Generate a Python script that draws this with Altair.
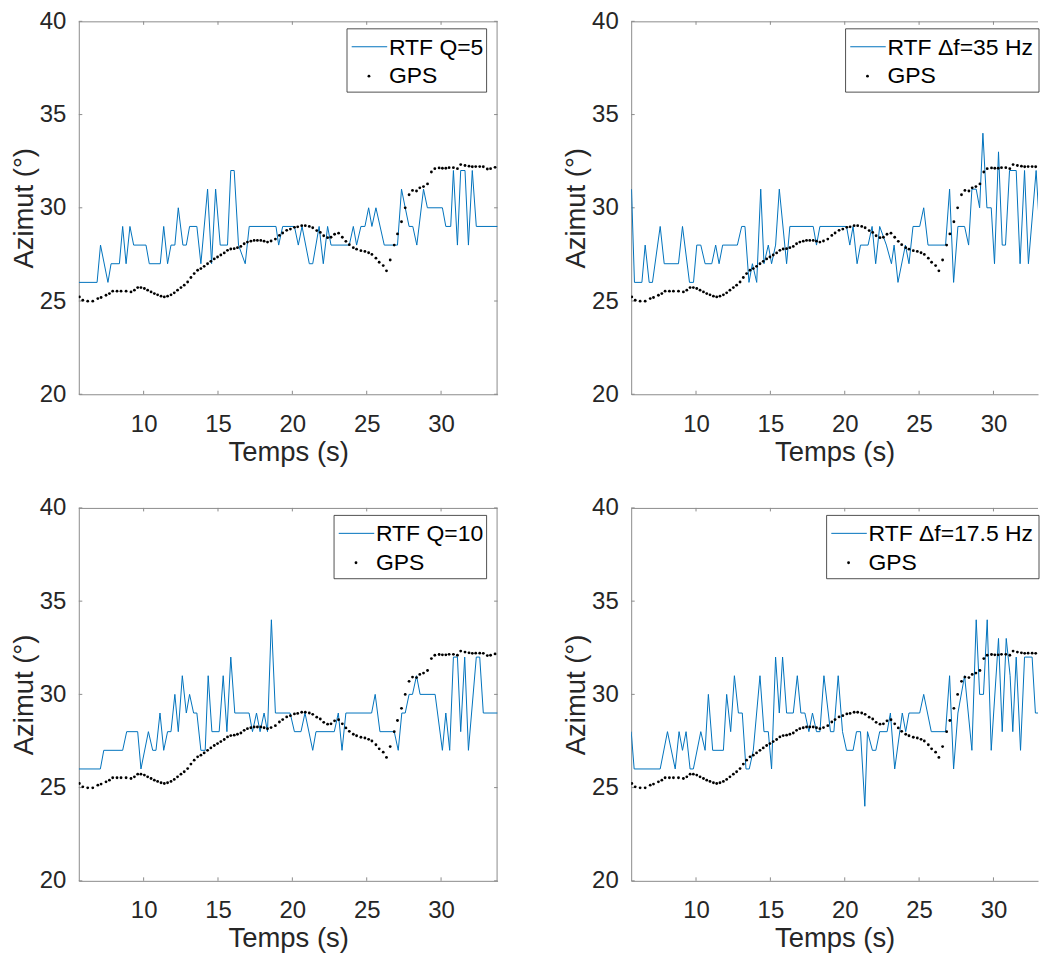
import altair as alt
import pandas as pd

# ---------------- data ----------------
gps_t = [5.68, 5.91, 6.24, 6.58, 6.92, 7.14, 7.47, 7.70, 7.92, 8.21, 8.48, 8.82, 9.15, 9.38,
         9.60, 9.82, 10.05, 10.27, 10.50, 10.72, 10.94, 11.17, 11.39, 11.61, 11.84, 12.06,
         12.28, 12.51, 12.73, 12.96, 13.18, 13.40, 13.63, 13.85, 14.07, 14.30, 14.52, 14.75,
         14.97, 15.19, 15.42, 15.64, 15.86, 16.09, 16.31, 16.54, 16.76, 16.98, 17.21, 17.43,
         17.65, 17.88, 18.10, 18.33, 18.57, 18.86, 19.13, 19.35, 19.62, 19.87, 20.14, 20.36,
         20.63, 20.87, 21.14, 21.37, 21.64, 21.88, 22.11, 22.37, 22.60, 22.84, 23.11, 23.36,
         23.60, 23.83, 24.10, 24.32, 24.61, 24.88, 25.13, 25.35, 25.62, 25.84, 26.11, 26.33,
         26.58, 26.85, 27.07, 27.34, 27.59, 27.85, 28.08, 28.35, 28.57, 28.82, 29.09, 29.35,
         29.58, 29.87, 30.09, 30.32, 30.54, 30.83, 31.10, 31.32, 31.61, 31.88, 32.10, 32.33,
         32.60, 32.84, 33.11, 33.33, 33.63]
gps_v = [25.22, 25.04, 24.99, 24.99, 25.13, 25.19, 25.31, 25.40, 25.53, 25.53, 25.53, 25.53,
         25.49, 25.58, 25.72, 25.72, 25.67, 25.58, 25.49, 25.40, 25.33, 25.26, 25.22, 25.26,
         25.33, 25.44, 25.58, 25.72, 25.85, 26.02, 26.26, 26.47, 26.65, 26.74, 26.86, 27.00,
         27.13, 27.26, 27.36, 27.47, 27.58, 27.72, 27.79, 27.81, 27.86, 27.93, 28.07, 28.16,
         28.21, 28.25, 28.25, 28.25, 28.21, 28.16, 28.22, 28.32, 28.52, 28.65, 28.79, 28.86,
         28.95, 28.98, 29.04, 29.04, 29.00, 28.93, 28.78, 28.68, 28.50, 28.40, 28.42, 28.58,
         28.64, 28.42, 28.20, 28.02, 27.86, 27.78, 27.70, 27.66, 27.59, 27.50, 27.30, 27.08,
         26.90, 26.62, 27.20, 28.00, 28.60, 29.25, 30.00, 30.70, 30.93, 30.90, 31.07, 31.14,
         31.28, 31.92, 32.10, 32.14, 32.12, 32.12, 32.15, 32.15, 32.10, 32.32, 32.27, 32.23,
         32.20, 32.21, 32.21, 32.20, 32.08, 32.10, 32.17]

q5_t = [5.64, 6.87, 7.10, 7.60, 7.81, 8.37, 8.59, 8.82, 9.08, 9.33, 10.16, 10.38, 11.12, 11.35,
        11.61, 11.84, 12.10, 12.33, 12.64, 12.87, 13.09, 13.58, 13.85, 14.30, 14.57, 14.84,
        15.15, 15.64, 15.86, 16.09, 16.38, 16.83, 17.10, 18.90, 19.08, 19.35, 20.14, 20.40,
        20.65, 21.14, 21.37, 21.80, 22.08, 22.37, 22.60, 23.83, 24.10, 24.32, 24.61, 24.88,
        25.13, 25.35, 25.62, 26.18, 27.07, 27.34, 27.59, 27.85, 28.10, 28.37, 28.82, 29.08,
        30.09, 30.32, 30.65, 30.83, 31.10, 31.32, 31.61, 31.84, 32.10, 32.37, 33.80]
q5_v = [26, 26, 28, 26, 27, 27, 29, 27, 29, 28, 28, 27, 27, 29,
        27, 28, 28, 30, 28, 28, 29, 29, 27, 31, 27, 31,
        28, 28, 32, 32, 28, 27, 29, 29, 28, 29, 29, 28,
        29, 27, 27, 29, 27, 29, 28, 28, 29, 28, 29, 29,
        30, 29, 30, 28, 28, 31, 30, 29, 29, 28, 31, 30,
        30, 29, 29, 32, 28, 32, 32, 28, 32, 29, 29]

d35_t = [5.66, 5.86, 6.36, 6.58, 6.85, 7.07, 7.59, 7.86, 8.82, 9.09, 9.56, 9.83, 10.05, 10.32,
         10.61, 11.06, 11.32, 11.55, 11.79, 12.78, 13.07, 13.29, 13.56, 13.79, 14.08, 14.35,
         14.57, 14.86, 15.08, 15.35, 15.60, 16.09, 16.31, 17.88, 18.10, 18.33, 20.12, 20.34,
         20.56, 20.83, 21.06, 21.57, 21.84, 22.08, 22.35, 22.80, 23.14, 23.32, 23.58, 24.08,
         24.32, 24.59, 25.04, 25.31, 25.60, 26.78, 27.05, 27.32, 27.61, 28.06, 28.33, 28.55,
         28.84, 29.07, 29.29, 29.56, 29.85, 30.07, 30.34, 30.59, 30.81, 31.08, 31.53, 31.79,
         32.09, 32.35, 32.87, 33.09, 33.80]
d35_v = [31, 26, 26, 28, 26, 26, 29, 27, 27, 29, 26, 26, 28, 28,
         27, 27, 28, 27, 28, 28, 29, 29, 26, 27, 26, 31,
         27, 28, 27, 28, 31, 27, 29, 29, 28, 29, 29, 28,
         29, 27, 28, 28, 29, 27, 29, 28, 27, 28, 26, 28,
         27, 29, 29, 30, 28, 28, 31, 26, 29, 29, 28, 31,
         31, 30, 34, 30, 30, 27, 33, 28, 28, 32, 32, 27,
         32, 27, 32, 29, 29]

q10_t = [5.64, 7.09, 7.32, 8.59, 8.86, 9.60, 9.82, 10.32, 10.61, 10.83, 11.10, 11.35, 11.61,
         11.84, 12.10, 12.33, 12.60, 12.87, 13.09, 13.36, 13.58, 13.85, 14.14, 14.34, 14.59,
         15.08, 15.35, 15.60, 15.86, 16.13, 17.09, 17.32, 17.59, 17.83, 18.10, 18.33, 18.59,
         18.86, 19.85, 20.14, 20.58, 20.85, 21.37, 21.59, 22.82, 23.09, 23.34, 23.60, 25.33,
         25.57, 25.89, 26.85, 27.12, 27.36, 27.59, 27.85, 28.08, 28.35, 28.59, 29.60, 30.09,
         30.32, 30.58, 30.83, 31.10, 31.32, 31.59, 31.84, 32.37, 32.60, 32.84, 33.80]
q10_v = [26, 26, 27, 27, 28, 28, 26, 28, 27, 27, 29, 27, 28,
         28, 30, 28, 31, 29, 30, 29, 29, 27, 27, 31, 28,
         28, 31, 28, 32, 29, 29, 28, 29, 28, 29, 28, 34,
         29, 29, 28, 28, 29, 27, 28, 28, 29, 27, 29, 29,
         30, 28, 28, 27, 29, 29, 30, 30, 31, 30, 30, 27,
         29, 27, 32, 32, 28, 32, 27, 32, 32, 29, 29]

d175_t = [5.64, 5.84, 7.59, 8.08, 8.60, 8.86, 9.09, 9.33, 9.60, 9.82, 10.32, 10.61, 10.83,
          11.12, 11.84, 12.06, 12.33, 12.58, 12.85, 13.11, 13.36, 13.58, 13.85, 14.30, 14.57,
          14.86, 15.08, 15.35, 15.60, 15.82, 16.09, 16.54, 16.81, 17.05, 17.32, 17.59, 17.83,
          18.10, 18.33, 18.60, 19.04, 19.27, 19.56, 19.85, 20.12, 20.56, 20.79, 21.06, 21.35,
          21.53, 21.86, 22.09, 22.35, 22.85, 23.07, 23.36, 23.87, 24.10, 24.32, 25.04, 25.31,
          25.82, 26.78, 27.05, 27.32, 27.61, 28.06, 28.55, 28.84, 29.07, 29.33, 29.58, 29.85,
          30.34, 30.59, 30.86, 31.12, 31.30, 31.53, 31.82, 32.09, 32.60, 32.82, 33.80]
d175_v = [28, 26, 26, 28, 26, 28, 27, 28, 26, 26, 28, 27, 30,
          27, 27, 30, 28, 31, 29, 29, 26, 26, 27, 31, 28,
          28, 26, 32, 29, 32, 29, 29, 31, 29, 29, 28, 29,
          28, 28, 31, 28, 28, 31, 28, 27, 27, 28, 28, 24,
          28, 27, 27, 28, 28, 29, 26, 29, 28, 29, 29, 30,
          28, 28, 31, 26, 29, 31, 27, 34, 30, 30, 34, 27,
          33, 28, 33, 31, 28, 32, 27, 32, 32, 29, 29]

x_ticks = [10, 15, 20, 25, 30]
y_ticks = [20, 25, 30, 35, 40]
labels = ["RTF Q=5", "RTF \u0394f=35 Hz", "RTF Q=10", "RTF \u0394f=17.5 Hz"]
gps_label = "GPS"

# ---------------- styling ----------------
X_MIN, X_MAX = 5.64, 33.8
W_L, W_R, H = 420, 408, 374
PX_PER_UNIT = W_L / (X_MAX - X_MIN)
FONT = "Liberation Sans"
TXT = "#262626"
FRAME = "#8c8c8c"
BLUE = "#0072BD"
TICK = 3.5
DOT = 8


def panel(rt, rv, label, width, legend_left, right_frame):
    xmax = X_MIN + width / PX_PER_UNIT
    xs = alt.Scale(domain=[X_MIN, xmax], nice=False, zero=False)
    ys = alt.Scale(domain=[20, 40], nice=False, zero=False)
    X = alt.X("t:Q", scale=xs, axis=alt.Axis(values=x_ticks, title="Temps (s)", format="d"))
    Y = alt.Y("v:Q", scale=ys, axis=alt.Axis(values=y_ticks, title="Azimut (°)", format="d"))
    rtf = pd.DataFrame({"t": rt, "v": rv})
    gps = pd.DataFrame({"t": gps_t, "v": gps_v})
    xt = pd.DataFrame({"t": x_ticks})
    yt = pd.DataFrame({"v": y_ticks})
    one = pd.DataFrame({"a": [0]})

    layers = [
        alt.Chart(xt).mark_rule(color=FRAME, strokeWidth=1).encode(
            x=X, y=alt.value(H), y2=alt.value(H - TICK)),
        alt.Chart(xt).mark_rule(color=FRAME, strokeWidth=1).encode(
            x=X, y=alt.value(0), y2=alt.value(TICK)),
        alt.Chart(yt).mark_rule(color=FRAME, strokeWidth=1).encode(
            y=Y, x=alt.value(0), x2=alt.value(TICK)),
        alt.Chart(one).mark_rule(color=FRAME, strokeWidth=1).encode(
            x=alt.value(0), x2=alt.value(width), y=alt.value(0.5)),
    ]
    if right_frame:
        layers += [
            alt.Chart(yt).mark_rule(color=FRAME, strokeWidth=1).encode(
                y=Y, x=alt.value(width - TICK), x2=alt.value(width)),
            alt.Chart(one).mark_rule(color=FRAME, strokeWidth=1).encode(
                x=alt.value(width - 0.5), y=alt.value(0), y2=alt.value(H)),
        ]
    layers += [
        alt.Chart(rtf).mark_line(color=BLUE, strokeWidth=1, clip=True).encode(x=X, y=Y),
        alt.Chart(gps).mark_circle(color="black", size=DOT, opacity=1, clip=True).encode(x=X, y=Y),
    ]
    L = legend_left
    R = 409
    T, B = 7.5, 71
    layers += [
        alt.Chart(one).mark_rect(fill="white", stroke="#262626", strokeWidth=0.8).encode(
            x=alt.value(L), x2=alt.value(R), y=alt.value(T), y2=alt.value(B)),
        alt.Chart(one).mark_rule(color=BLUE, strokeWidth=1).encode(
            x=alt.value(L + 4.7), x2=alt.value(L + 40.3), y=alt.value(T + 18)),
        alt.Chart(one).mark_circle(color="black", size=DOT, opacity=1).encode(
            x=alt.value(L + 22), y=alt.value(T + 47.5)),
        alt.Chart(one).mark_text(text=label, align="left", baseline="alphabetic",
                                 font=FONT, fontSize=23, color="black").encode(
            x=alt.value(L + 42), y=alt.value(T + 26)),
        alt.Chart(one).mark_text(text=gps_label, align="left", baseline="alphabetic",
                                 font=FONT, fontSize=23, color="black").encode(
            x=alt.value(L + 42), y=alt.value(T + 54.5)),
    ]
    return alt.layer(*layers).properties(width=width, height=H)


p1 = panel(q5_t, q5_v, labels[0], W_L, 269, True)
p2 = panel(d35_t, d35_v, labels[1], W_R, 215, False)
p3 = panel(q10_t, q10_v, labels[2], W_L, 256, True)
p4 = panel(d175_t, d175_v, labels[3], W_R, 196, False)

top = alt.hconcat(p1, p2, spacing=64)
bottom = alt.hconcat(p3, p4, spacing=64)
chart = alt.vconcat(top, bottom, spacing=30).properties(
    padding={"left": 2, "top": 0, "right": 0, "bottom": 0}
).configure_axis(
    labelFont=FONT, titleFont=FONT, labelFontSize=24, titleFontSize=27.5,
    labelColor=TXT, titleColor=TXT, titleFontWeight="normal",
    ticks=False, tickSize=0, domainColor=FRAME, domainWidth=1, grid=False,
    labelPadding=13,
).configure_axisY(titlePadding=1).configure_axisX(titlePadding=2, labelPadding=18
).configure_view(stroke=None)

chart.save("out.html", embed_options={"renderer": "svg", "actions": False})
